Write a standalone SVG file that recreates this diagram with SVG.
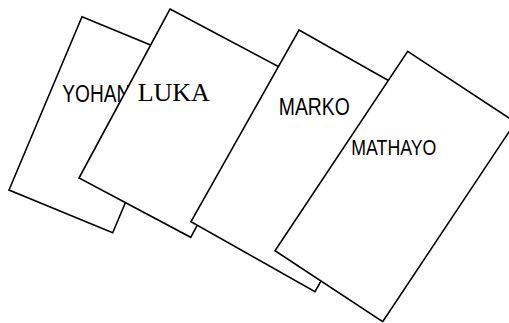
<svg xmlns="http://www.w3.org/2000/svg" width="509" height="323" viewBox="0 0 509 323">
  <style>
    .card { fill: #ffffff; stroke: #000000; stroke-width: 1.6; stroke-linejoin: miter; }
    .sans { font-family: "Liberation Sans", Arial, sans-serif; fill: #000000; }
    .serif { font-family: "Liberation Serif", "Times New Roman", serif; fill: #000000; }
  </style>
  <rect x="0" y="0" width="509" height="323" fill="#ffffff"/>
  <g id="node-yohana">
    <polygon class="card" points="82,16.7 185.7,59.4 112.7,232.7 9,190"/>
    <text class="sans" x="62.3" y="101.5" font-size="23" textLength="67.9" lengthAdjust="spacingAndGlyphs">YOHAN</text>
  </g>
  <g id="node-luka">
    <polygon class="card" points="170,9 281.7,68.3 190.7,237.3 79,178"/>
    <text class="serif" x="137.7" y="101" font-size="26">LUKA</text>
  </g>
  <g id="node-marko">
    <polygon class="card" points="299,30 423,100 315,291.7 191,221.7"/>
    <text class="sans" x="278.8" y="115" font-size="24" textLength="71" lengthAdjust="spacingAndGlyphs">MARKO</text>
  </g>
  <g id="node-mathayo">
    <polygon class="card" points="407.7,51.3 515.4,122.3 382.7,321.7 275,250.7"/>
    <text class="sans" x="351.3" y="155" font-size="22" textLength="85" lengthAdjust="spacingAndGlyphs">MATHAYO</text>
  </g>
</svg>
